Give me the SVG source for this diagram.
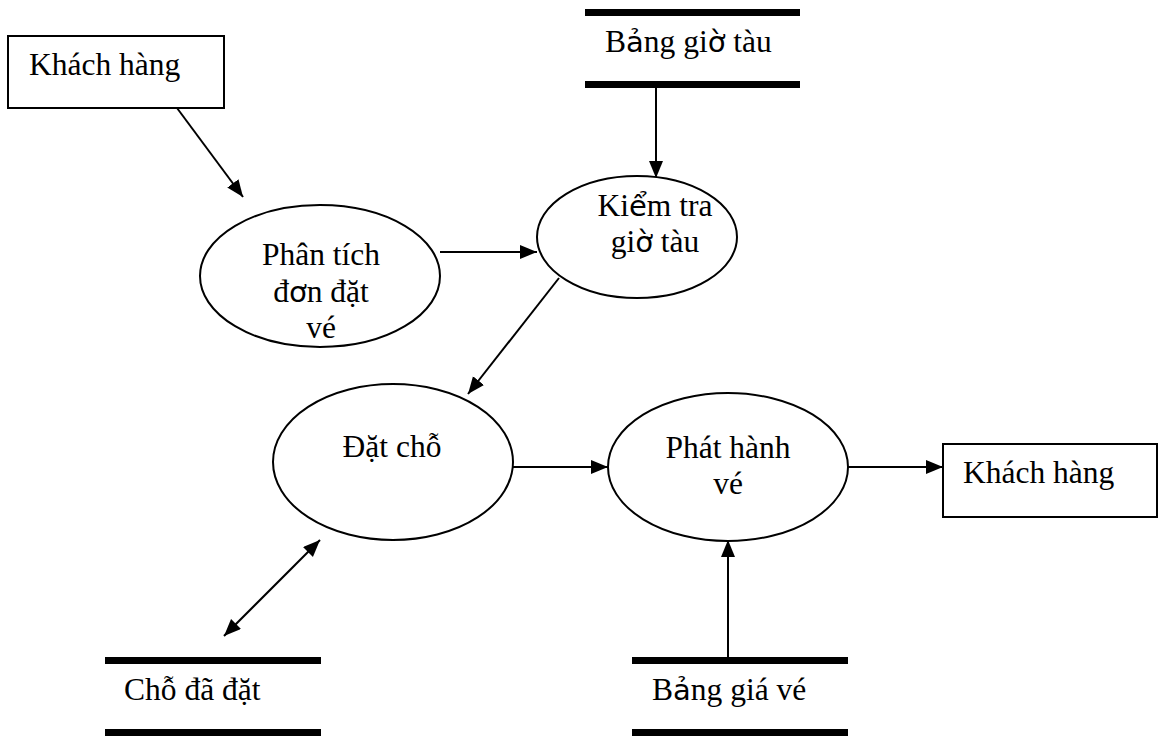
<svg xmlns="http://www.w3.org/2000/svg" width="1158" height="736" viewBox="0 0 1158 736">
<style>
.t{font-family:"Liberation Serif","DejaVu Serif",serif;font-size:31.5px;fill:#000}
.f{font-family:"DejaVu Sans",sans-serif;font-size:29px}
.box{fill:#fff;stroke:#000;stroke-width:2}
.proc{fill:#fff;stroke:#000;stroke-width:2}
.bar{fill:#000}
.c{stroke:#000;stroke-width:2;fill:none}
</style>
<defs>
<marker id="ah" markerUnits="userSpaceOnUse" markerWidth="18" markerHeight="15" refX="17" refY="7" orient="auto-start-reverse">
<path d="M0,0 L17,7 L0,14 z" fill="#000"/>
</marker>
</defs>
<g id="connectors">
<line class="c" x1="177" y1="108" x2="243" y2="197" marker-end="url(#ah)"/>
<line class="c" x1="440" y1="252" x2="537" y2="252" marker-end="url(#ah)"/>
<line class="c" x1="656" y1="88" x2="656" y2="178" marker-end="url(#ah)"/>
<line class="c" x1="559" y1="278" x2="468" y2="394" marker-end="url(#ah)"/>
<line class="c" x1="513" y1="467" x2="608" y2="467" marker-end="url(#ah)"/>
<line class="c" x1="848" y1="467" x2="943" y2="467" marker-end="url(#ah)"/>
<line class="c" x1="728" y1="657" x2="728" y2="540" marker-end="url(#ah)"/>
<line class="c" x1="224" y1="636" x2="320" y2="540" marker-start="url(#ah)" marker-end="url(#ah)"/>
</g>
<g id="khach-hang-1">
<rect class="box" x="8" y="36" width="216" height="72"/>
<text class="t" x="29" y="75">Khách hàng</text>
</g>
<g id="bang-gio-tau">
<rect class="bar" x="585" y="9" width="215" height="7"/>
<rect class="bar" x="585" y="81" width="215" height="7"/>
<text class="t" x="605" y="52">B<tspan class="f">ả</tspan>ng gi<tspan class="f">ờ</tspan> tàu</text>
</g>
<g id="phan-tich">
<ellipse class="proc" cx="320" cy="276" rx="120" ry="71"/>
<text class="t" text-anchor="middle" x="321" y="265">Phân tích</text>
<text class="t" text-anchor="middle" x="321" y="302">đ<tspan class="f">ơ</tspan>n đặt</text>
<text class="t" text-anchor="middle" x="321" y="338">vé</text>
</g>
<g id="kiem-tra">
<ellipse class="proc" cx="637" cy="237" rx="100" ry="61"/>
<text class="t" text-anchor="middle" x="655" y="216">Ki<tspan class="f">ể</tspan>m tra</text>
<text class="t" text-anchor="middle" x="655" y="252">gi<tspan class="f">ờ</tspan> tàu</text>
</g>
<g id="dat-cho">
<ellipse class="proc" cx="393" cy="462" rx="120" ry="78"/>
<text class="t" text-anchor="middle" x="392" y="457">Đặt chỗ</text>
</g>
<g id="phat-hanh">
<ellipse class="proc" cx="728" cy="467" rx="120" ry="74"/>
<text class="t" text-anchor="middle" x="728" y="458">Phát hành</text>
<text class="t" text-anchor="middle" x="728" y="494">vé</text>
</g>
<g id="khach-hang-2">
<rect class="box" x="943" y="444" width="214" height="73"/>
<text class="t" x="963" y="483">Khách hàng</text>
</g>
<g id="cho-da-dat">
<rect class="bar" x="105" y="657" width="216" height="7"/>
<rect class="bar" x="105" y="729" width="216" height="7"/>
<text class="t" x="124" y="700">Chỗ đã đặt</text>
</g>
<g id="bang-gia-ve">
<rect class="bar" x="632" y="657" width="216" height="7"/>
<rect class="bar" x="632" y="729" width="216" height="7"/>
<text class="t" x="652" y="700">B<tspan class="f">ả</tspan>ng giá vé</text>
</g>
</svg>
